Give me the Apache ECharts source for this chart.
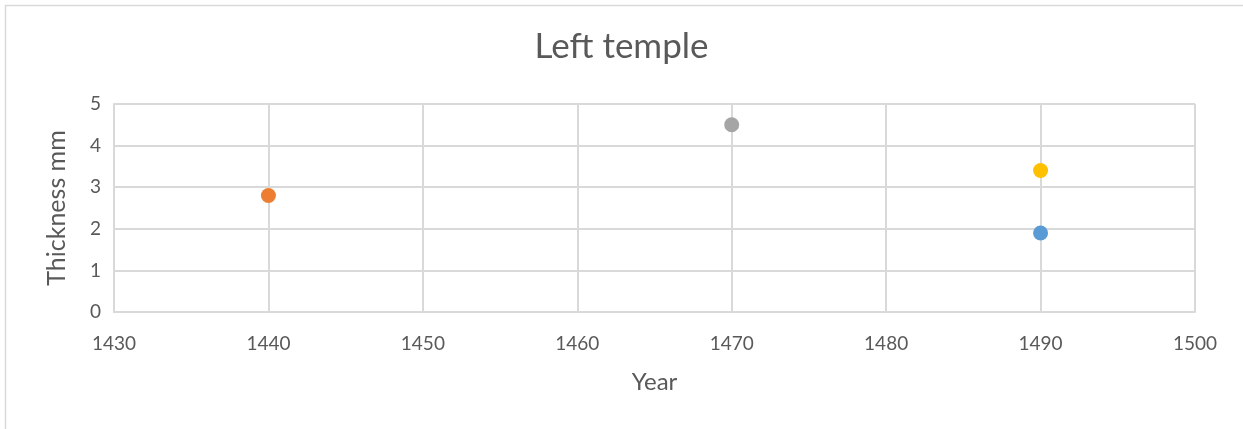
<!DOCTYPE html>
<html>
<head>
<meta charset="utf-8">
<script src="https://cdn.jsdelivr.net/npm/echarts@6/dist/echarts.min.js"></script>
<style>
  html, body { margin: 0; padding: 0; background: #fff; }
  #main { width: 1243px; height: 429px; }
</style>
</head>
<body>
<div id="main"></div>
<script>
// one point per series, Excel default palette order
const seriesNames = ['Series1', 'Series2', 'Series3', 'Series4'];
const years = [1490, 1440, 1470, 1490];
const thickness = [1.9, 2.8, 4.5, 3.4];
const colors = ['#5b9bd5', '#ed7d31', '#a5a5a5', '#ffc000'];

const textColor = '#595959';
const gridColor = '#d9d9d9';
const font = 'Lato, "Open Sans", sans-serif';

const myChart = echarts.init(document.getElementById('main'));

const option = {
    animation: false,
    title: {
        text: 'Left temple',
        left: 'center',
        top: 24,
        textStyle: { color: textColor, fontSize: 35, fontWeight: 'normal', fontFamily: font }
    },
    graphic: [{
        type: 'rect',
        shape: { x: 5.5, y: 5.5, width: 1400, height: 600 },
        style: { fill: 'none', stroke: gridColor, lineWidth: 1.5 }
    }],
    grid: { left: 114, right: 48, top: 104, bottom: 117 },
    xAxis: {
        type: 'value',
        min: 1430,
        max: 1500,
        interval: 10,
        name: 'Year',
        nameLocation: 'middle',
        nameGap: 58,
        nameTextStyle: { color: textColor, fontSize: 24, fontFamily: font },
        axisLine: { show: true, lineStyle: { color: gridColor, width: 2 } },
        axisTick: { show: false },
        axisLabel: {
            color: textColor, fontSize: 19, margin: 22, fontFamily: font,
            formatter: function (v) { return String(v); }
        },
        splitLine: { show: true, lineStyle: { color: gridColor, width: 2 } }
    },
    yAxis: {
        type: 'value',
        min: 0,
        max: 5,
        interval: 1,
        name: 'Thickness mm',
        nameLocation: 'middle',
        nameRotate: 90,
        nameGap: 45,
        nameTextStyle: { color: textColor, fontSize: 25, fontFamily: font },
        axisLine: { show: true, lineStyle: { color: gridColor, width: 2 } },
        axisTick: { show: false },
        axisLabel: { color: textColor, fontSize: 19, margin: 13, fontFamily: font },
        splitLine: { show: true, lineStyle: { color: gridColor, width: 2 } }
    },
    series: seriesNames.map(function (name, i) {
        return {
            name: name,
            type: 'scatter',
            symbolSize: 15,
            itemStyle: { color: colors[i], opacity: 1 },
            data: [[years[i], thickness[i]]]
        };
    })
};

myChart.setOption(option);
</script>
</body>
</html>
